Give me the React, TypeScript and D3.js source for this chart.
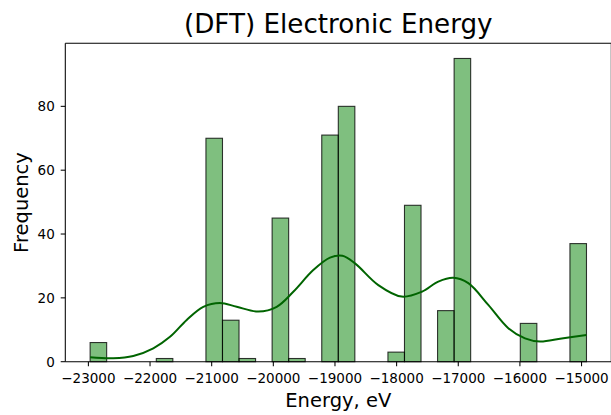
import React from "react";
import * as d3 from "d3";

// Histogram: 30 equal bins between binMin and binMax
const binMin = -22972;
const binMax = -14920;
const counts = [6, 0, 0, 0, 1, 0, 0, 70, 13, 1, 0, 45, 1, 0, 71, 80, 0, 0, 3, 49, 0, 16, 95, 0, 0, 0, 12, 0, 0, 37];

// KDE line (energy, frequency)
const kdeX = [-22972, -22596, -22272, -21947, -21676, -21405, -21136, -20865, -20594, -20244, -19945, -19676, -19352, -19081, -18880, -18675, -18297, -17918, -17593, -17324, -17080, -16837, -16513, -16188, -15917, -15674, -15322, -14920];
const kdeY = [1.4, 1.1, 1.8, 4.2, 7.8, 13.1, 17.2, 18.4, 17.2, 15.7, 17.2, 21.9, 28.7, 32.6, 33.2, 30.8, 24.0, 20.4, 21.9, 25.1, 26.3, 24.6, 17.8, 10.5, 7.3, 6.3, 7.3, 8.4];

const xTicks = [-23000, -22000, -21000, -20000, -19000, -18000, -17000, -16000, -15000];
const yTicks = [0, 20, 40, 60, 80];

const title = "(DFT) Electronic Energy";
const xLabel = "Energy, eV";
const yLabel = "Frequency";

const W = 611;
const H = 415;
const left = 65.3;
const right = 611.3;
const top = 43.3;
const bottom = 361.7;
const font = "'DejaVu Sans', sans-serif";

export default function App() {
  const range = binMax - binMin;
  const x = d3.scaleLinear().domain([binMin - 0.05 * range, binMax + 0.05 * range]).range([left, right]);
  const yMax = d3.max(counts)! * 1.05;
  const y = d3.scaleLinear().domain([0, yMax]).range([bottom, top]);
  const bw = range / counts.length;

  const line = d3
    .line<number>()
    .x((_, i) => x(kdeX[i]))
    .y((d) => y(d))
    .curve(d3.curveCatmullRom.alpha(0.5));

  const minus = (v: number) => (v < 0 ? "\u2212" + Math.abs(v) : String(v));

  return (
    <svg width={W} height={H} style={{ position: "absolute", left: 0, top: 0, background: "#fff" }} fontFamily={font}>
      <rect x={0} y={0} width={W} height={H} fill="#fff" />
      {counts.map((c, i) =>
        c > 0 ? (
          <rect
            key={i}
            x={x(binMin + i * bw)}
            y={y(c)}
            width={x(binMin + (i + 1) * bw) - x(binMin + i * bw)}
            height={y(0) - y(c)}
            fill="rgba(0,128,0,0.5)"
            stroke="rgba(0,0,0,0.78)"
            strokeWidth={1.1}
          />
        ) : null
      )}
      <path d={line(kdeY) || ""} fill="none" stroke="#006400" strokeWidth={2} />
      {/* spines */}
      <line x1={left} x2={left} y1={top} y2={bottom} stroke="#000" strokeWidth={1.05} />
      <line x1={left} x2={right} y1={bottom} y2={bottom} stroke="#000" strokeWidth={1.05} />
      <line x1={left} x2={right} y1={top} y2={top} stroke="#000" strokeWidth={1.05} />
      <line x1={right} x2={right} y1={top} y2={bottom} stroke="#000" strokeWidth={1.05} />
      {/* x ticks */}
      {xTicks.map((t) => (
        <g key={t}>
          <line x1={x(t)} x2={x(t)} y1={bottom} y2={bottom + 4.6} stroke="#000" strokeWidth={1.05} />
          <text x={x(t)} y={383.3} textAnchor="middle" fontSize={13.5} fill="#000">
            {minus(t)}
          </text>
        </g>
      ))}
      {/* y ticks */}
      {yTicks.map((t) => (
        <g key={t}>
          <line x1={left - 4.6} x2={left} y1={y(t)} y2={y(t)} stroke="#000" strokeWidth={1.05} />
          <text x={left - 10.5} y={y(t)} dy="0.36em" textAnchor="end" fontSize={13.5} fill="#000">
            {t}
          </text>
        </g>
      ))}
      <text x={(left + right) / 2} y={32.7} textAnchor="middle" fontSize={26.2} fill="#000">
        {title}
      </text>
      <text x={(left + right) / 2} y={407.3} textAnchor="middle" fontSize={19.5} fill="#000">
        {xLabel}
      </text>
      <text
        transform={`translate(28,${(top + bottom) / 2}) rotate(-90)`}
        textAnchor="middle"
        fontSize={19.5}
        fill="#000"
      >
        {yLabel}
      </text>
    </svg>
  );
}
